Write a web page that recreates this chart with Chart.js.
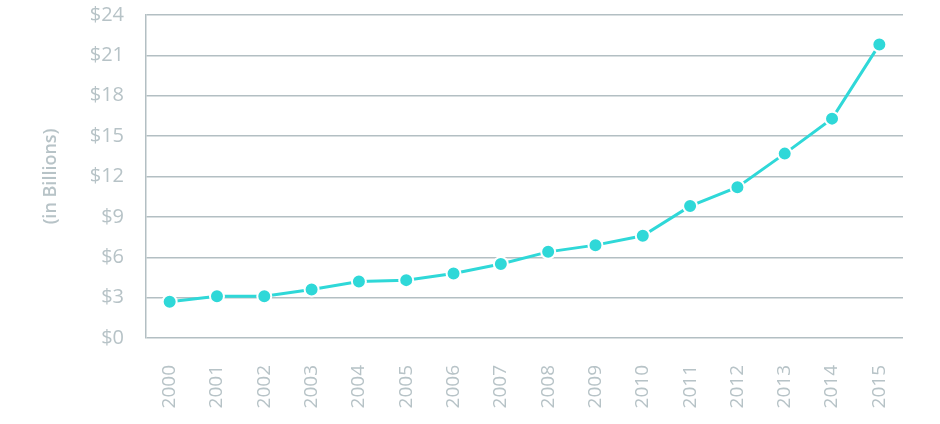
<!DOCTYPE html>
<html>
<head>
<meta charset="utf-8">
<script src="https://cdn.jsdelivr.net/npm/chart.js@4"></script>
<style>
html,body{margin:0;padding:0;background:#fff}
#wrap{width:940px;height:424px}
</style>
</head>
<body>
<div id="wrap"><canvas id="chart" width="940" height="424"></canvas></div>
<script>
// values in billions of dollars
const years=["2000","2001","2002","2003","2004","2005","2006","2007","2008","2009","2010","2011","2012","2013","2014","2015"]
const spend=[2.7,3.1,3.1,3.6,4.2,4.3,4.8,5.5,6.4,6.9,7.6,9.8,11.2,13.7,16.3,21.8]
const yTicks=[0,3,6,9,12,15,18,21,24]

const grey="#b7c3c7"
const gridGrey="#b3bfc3"
const teal="#2fd8d8"
const font="'Open Sans', sans-serif"

const ctx=document.getElementById("chart")

new Chart(ctx,{
type:"line",
data:{
labels:years,
datasets:[{
data:spend,
borderColor:teal,
backgroundColor:teal,
borderWidth:3,
tension:0,
pointRadius:7,
pointHoverRadius:7,
pointBorderColor:"#fff",
pointBorderWidth:2,
pointBackgroundColor:teal
}]
},
options:{
responsive:false,
animation:false,
layout:{padding:{left:0,right:37,top:15,bottom:0}},
plugins:{legend:{display:false},tooltip:{enabled:false}},
scales:{
x:{
offset:true,
grid:{display:false,drawTicks:false},
border:{display:false},
afterFit(scale){
scale.height=86
scale.paddingTop=0
scale.paddingLeft=0
scale.paddingRight=0
},
ticks:{
color:grey,
font:{family:font,size:19},
maxRotation:90,
minRotation:90,
padding:27
}
},
y:{
min:0,
max:24,
afterBuildTicks(axis){
axis.ticks=yTicks.map(v=>({value:v}))
},
afterFit(scale){
scale.width=146
scale.paddingTop=0
scale.paddingBottom=0
},
grid:{color:gridGrey,lineWidth:1.5,drawTicks:false},
border:{display:true,color:gridGrey,width:1.5},
ticks:{
color:grey,
font:{family:font,size:20},
padding:22,
callback:v=>"$"+v
},
title:{
display:true,
text:"(in Billions)",
color:grey,
font:{family:font,size:18,weight:600},
padding:{top:40,bottom:0}
}
}
}
}
})
</script>
</body>
</html>
